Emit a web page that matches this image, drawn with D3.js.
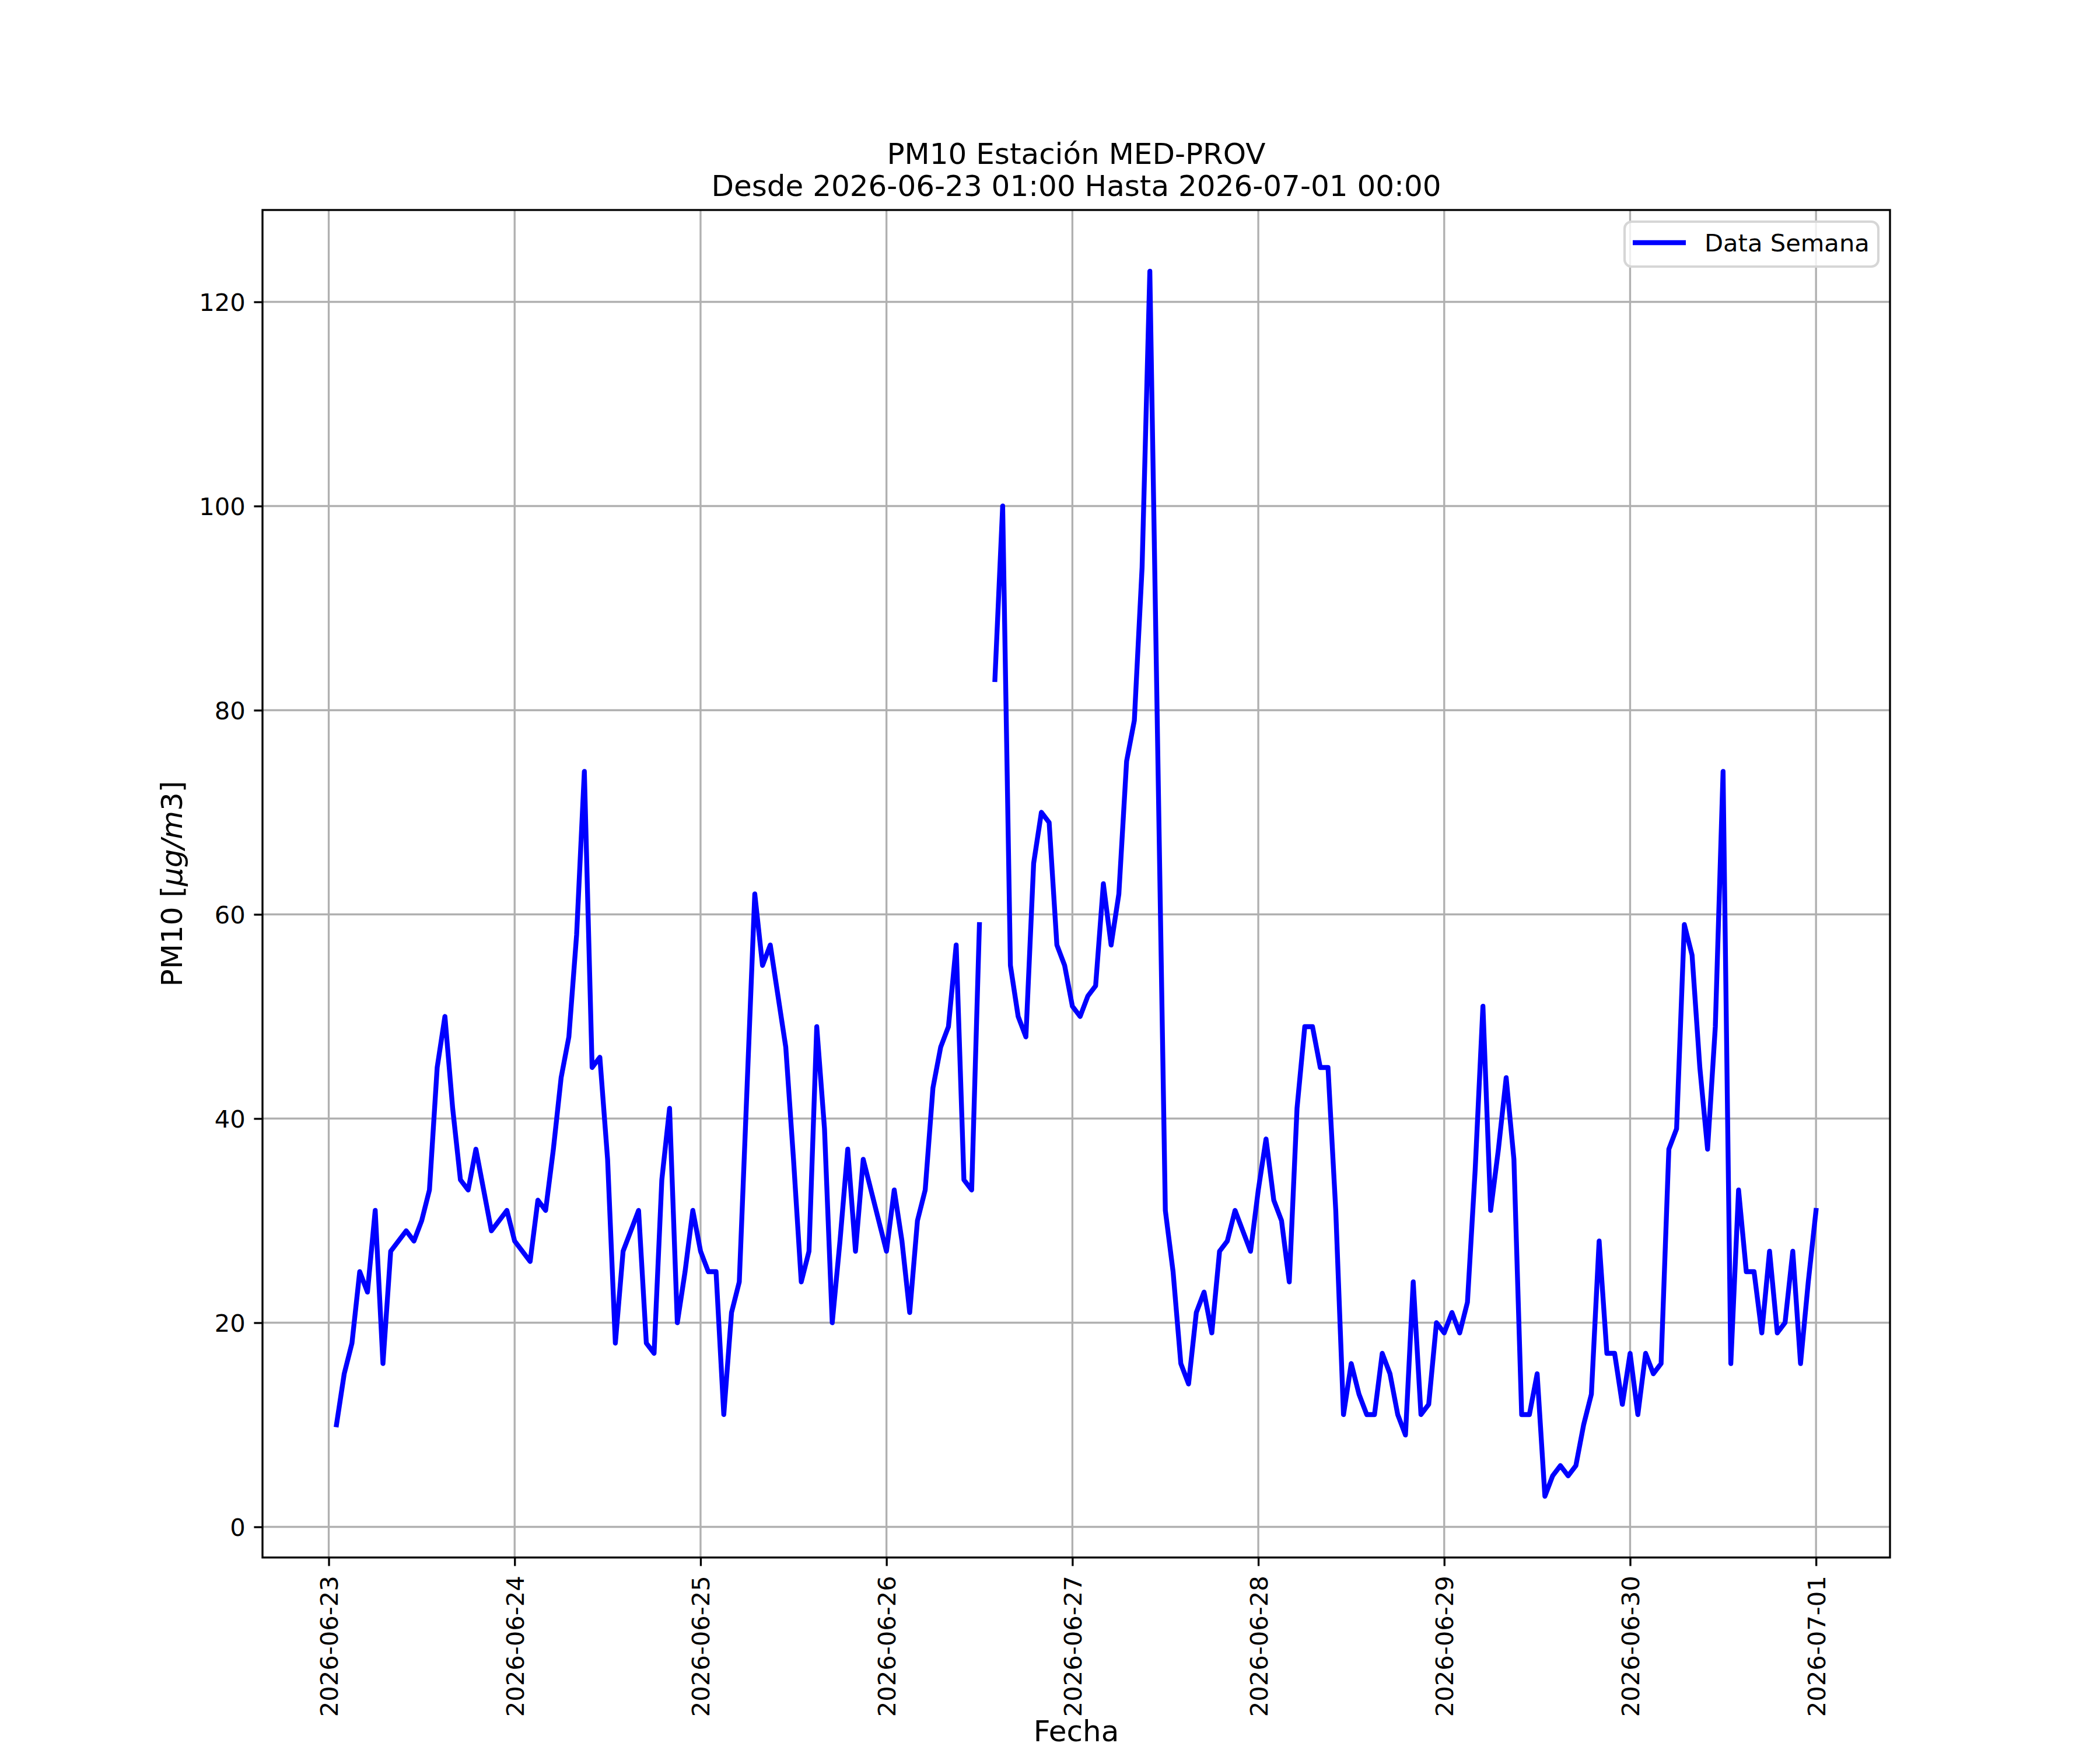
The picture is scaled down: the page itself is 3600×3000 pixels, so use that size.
<!DOCTYPE html>
<html>
<head>
<meta charset="utf-8">
<script src="https://cdn.jsdelivr.net/npm/d3@7"></script>
<style>
  body { margin: 0; background: #fff; }
  svg { display: block; font-family: "DejaVu Sans", sans-serif; }
</style>
</head>
<body>
<div id="chart"></div>
<script>
// hourly PM10 readings, one array per day (null = missing reading)
const day0623 = [10, 15, 18, 25, 23, 31, 16, 27, 28, 29, 28, 30, 33, 45, 50, 41, 34, 33, 37, 33, 29, 30, 31]; // 01:00 .. 23:00
const day0624 = [28, 27, 26, 32, 31, 37, 44, 48, 58, 74, 45, 46, 36, 18, 27, 29, 31, 18, 17, 34, 41, 20, 25, 31];
const day0625 = [27, 25, 25, 11, 21, 24, 43, 62, 55, 57, 52, 47, 36, 24, 27, 49, 39, 20, 28, 37, 27, 36, 33, 30];
const day0626 = [27, 33, 28, 21, 30, 33, 43, 47, 49, 57, 34, 33, 59, null, 83, 100, 55, 50, 48, 65, 70, 69, 57, 55];
const day0627 = [51, 50, 52, 53, 63, 57, 62, 75, 79, 94, 123, 77, 31, 25, 16, 14, 21, 23, 19, 27, 28, 31, 29, 27];
const day0628 = [33, 38, 32, 30, 24, 41, 49, 49, 45, 45, 31, 11, 16, 13, 11, 11, 17, 15, 11, 9, 24, 11, 12, 20];
const day0629 = [19, 21, 19, 22, 35, 51, 31, 37, 44, 36, 11, 11, 15, 3, 5, 6, 5, 6, 10, 13, 28, 17, 17, 12];
const day0630 = [17, 11, 17, 15, 16, 37, 39, 59, 56, 45, 37, 49, 74, 16, 33, 25, 25, 19, 27, 19, 20, 27, 16, 24];
const day0701 = [31]; // 00:00

const startTime = "2026-06-23T01:00:00Z";
const xTickLabels = ["2026-06-23", "2026-06-24", "2026-06-25", "2026-06-26", "2026-06-27",
                     "2026-06-28", "2026-06-29", "2026-06-30", "2026-07-01"];
const yTicks = [0, 20, 40, 60, 80, 100, 120];

const titleLines = ["PM10 Estación MED-PROV", "Desde 2026-06-23 01:00 Hasta 2026-07-01 00:00"];
const seriesName = "Data Semana";

const width = 3600;
const height = 3000;
const margin = { top: 360, right: 360, bottom: 330, left: 450 };
const plot = {
  left: margin.left,
  right: width - margin.right,
  top: margin.top,
  bottom: height - margin.bottom,
};

const pt = 300 / 72; // px per point at 300 dpi
const tickFont = 10 * pt;
const labelFont = 12 * pt;
const tickLen = 3.5 * pt;
const thin = 0.8 * pt;

const values = [].concat(day0623, day0624, day0625, day0626, day0627, day0628, day0629, day0630, day0701);
const t0 = new Date(startTime);
const data = values.map((v, i) => ({ date: d3.utcHour.offset(t0, i), v: v }));

// matplotlib-like 5% margins on the data extent
const tExt = d3.extent(data, (d) => +d.date);
const tPad = (tExt[1] - tExt[0]) * 0.05;
const vExt = d3.extent(data.filter((d) => d.v != null), (d) => d.v);
const vPad = (vExt[1] - vExt[0]) * 0.05;

const xScale = d3
  .scaleUtc()
  .domain([new Date(tExt[0] - tPad), new Date(tExt[1] + tPad)])
  .range([plot.left, plot.right]);

const yScale = d3
  .scaleLinear()
  .domain([vExt[0] - vPad, vExt[1] + vPad])
  .range([plot.bottom, plot.top]);

const parseDay = d3.utcParse("%Y-%m-%d");
const xTicks = xTickLabels.map(parseDay);

const svg = d3
  .select("#chart")
  .append("svg")
  .attr("width", width)
  .attr("height", height)
  .attr("viewBox", `0 0 ${width} ${height}`);

svg.append("rect").attr("width", width).attr("height", height).attr("fill", "#fff");

// gridlines
const grid = svg.append("g").attr("class", "gridlines");
grid
  .selectAll("line.gx")
  .data(xTicks)
  .join("line")
  .attr("class", "gx")
  .attr("x1", (d) => xScale(d))
  .attr("x2", (d) => xScale(d))
  .attr("y1", plot.top)
  .attr("y2", plot.bottom)
  .attr("stroke", "#b0b0b0")
  .attr("stroke-width", thin);
grid
  .selectAll("line.gy")
  .data(yTicks)
  .join("line")
  .attr("class", "gy")
  .attr("x1", plot.left)
  .attr("x2", plot.right)
  .attr("y1", (d) => yScale(d))
  .attr("y2", (d) => yScale(d))
  .attr("stroke", "#b0b0b0")
  .attr("stroke-width", thin);

// the series
const line = d3
  .line()
  .defined((d) => d.v != null)
  .x((d) => xScale(d.date))
  .y((d) => yScale(d.v));

svg
  .append("path")
  .datum(data)
  .attr("d", line)
  .attr("fill", "none")
  .attr("stroke", "#0000ff")
  .attr("stroke-width", 2 * pt)
  .attr("stroke-linejoin", "round")
  .attr("stroke-linecap", "square");

// axes
const xAxis = d3
  .axisBottom(xScale)
  .tickValues(xTicks)
  .tickFormat((d, i) => xTickLabels[i])
  .tickSize(tickLen)
  .tickSizeOuter(0)
  .tickPadding(tickLen);

const yAxis = d3
  .axisLeft(yScale)
  .tickValues(yTicks)
  .tickFormat(d3.format("d"))
  .tickSize(tickLen)
  .tickSizeOuter(0)
  .tickPadding(tickLen);

const gx = svg.append("g").attr("transform", `translate(0, ${plot.bottom})`).call(xAxis);
const gy = svg.append("g").attr("transform", `translate(${plot.left}, 0)`).call(yAxis);

[gx, gy].forEach((g) => {
  g.select(".domain").remove();
  g.selectAll(".tick line").attr("stroke", "#000").attr("stroke-width", thin);
  g.selectAll(".tick text")
    .attr("fill", "#000")
    .style("font-family", "DejaVu Sans")
    .style("font-size", tickFont + "px");
});

gx.selectAll(".tick text")
  .attr("transform", "rotate(-90)")
  .attr("text-anchor", "end")
  .attr("x", -(tickLen * 2 + 2))
  .attr("y", 0)
  .attr("dy", "0.36em");

gy.selectAll(".tick text").attr("dy", "0.36em");

// spines
svg
  .append("rect")
  .attr("x", plot.left)
  .attr("y", plot.top)
  .attr("width", plot.right - plot.left)
  .attr("height", plot.bottom - plot.top)
  .attr("fill", "none")
  .attr("stroke", "#000")
  .attr("stroke-width", thin);

// title
svg
  .append("g")
  .selectAll("text")
  .data(titleLines)
  .join("text")
  .attr("x", (plot.left + plot.right) / 2)
  .attr("y", (d, i) => 281 + i * 55)
  .attr("text-anchor", "middle")
  .style("font-size", labelFont + "px")
  .text((d) => d);

// axis labels
svg
  .append("text")
  .attr("x", (plot.left + plot.right) / 2)
  .attr("y", 2985)
  .attr("text-anchor", "middle")
  .style("font-size", labelFont + "px")
  .text("Fecha");

const ylab = svg
  .append("text")
  .attr("transform", `translate(312, ${(plot.top + plot.bottom) / 2}) rotate(-90)`)
  .attr("text-anchor", "middle")
  .style("font-size", labelFont + "px");
ylab.append("tspan").text("PM10 [");
ylab.append("tspan").style("font-style", "italic").text("μg/m");
ylab.append("tspan").text("3]");

// legend
const legend = svg.append("g").attr("transform", "translate(2785, 380)");
legend
  .append("rect")
  .attr("width", 435)
  .attr("height", 77)
  .attr("rx", 12)
  .attr("fill", "#fff")
  .attr("fill-opacity", 0.8)
  .attr("stroke", "#d6d6d6")
  .attr("stroke-width", 1 * pt);
legend
  .append("line")
  .attr("x1", 14)
  .attr("x2", 105)
  .attr("y1", 36)
  .attr("y2", 36)
  .attr("stroke", "#0000ff")
  .attr("stroke-width", 2 * pt);
legend
  .append("text")
  .attr("x", 137)
  .attr("y", 36)
  .attr("dy", "0.36em")
  .style("font-size", tickFont + "px")
  .text(seriesName);
</script>
</body>
</html>
